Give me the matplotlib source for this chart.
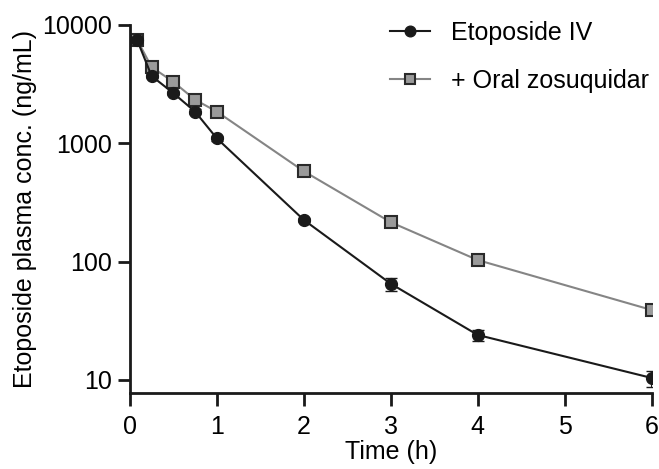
import numpy as np
import matplotlib.pyplot as plt

plt.rcParams['font.family'] = ['Liberation Sans', 'DejaVu Sans']

time_h = [0.083, 0.25, 0.5, 0.75, 1, 2, 3, 4, 6]
iv_conc = [7500, 3700, 2650, 1850, 1100, 225, 65, 24, 10.4]
iv_err = [300, 150, 100, 80, 50, 10, 8, 2.5, 1.6]
oral_conc = [7500, 4400, 3300, 2330, 1850, 580, 215, 103, 39]
oral_err = [250, 150, 120, 90, 60, 20, 10, 5, 3]

fig = plt.figure(figsize=(6.59, 4.69), dpi=100)
ax = fig.add_axes([0.197, 0.162, 0.792, 0.785])

oral = ax.errorbar(time_h, oral_conc, yerr=oral_err, color='#858585', lw=1.5,
                   marker='s', ms=8, mfc='#9a9a9a', mec='#2a2a2a', mew=1.5,
                   ecolor='#2a2a2a', elinewidth=1.5, capsize=4, zorder=2)
iv = ax.errorbar(time_h, iv_conc, yerr=iv_err, color='#1a1a1a', lw=1.5,
                 marker='o', ms=8.5, mfc='#1a1a1a', mec='#1a1a1a',
                 ecolor='#1a1a1a', elinewidth=1.5, capsize=4, zorder=3)

ax.set_yscale('log')
ax.set_ylim(7.76, 10000)
ax.set_xlim(0, 6)
ax.set_xticks(range(7))
ax.set_yticks([10, 100, 1000, 10000])
ax.set_yticklabels(['10', '100', '1000', '10000'])
ax.minorticks_off()

for side in ['top', 'right']:
    ax.spines[side].set_visible(False)
for side in ['left', 'bottom']:
    ax.spines[side].set_linewidth(2)
    ax.spines[side].set_color('#1a1a1a')
ax.tick_params(width=2, length=9, labelsize=18, color='#1a1a1a')
ax.tick_params(axis='x', pad=6.5)
ax.tick_params(axis='y', pad=3.5)

ax.set_xlabel('Time (h)', fontsize=18, labelpad=1)
ax.set_ylabel('Etoposide plasma conc. (ng/mL)', fontsize=18, labelpad=4)

fig.legend([iv.lines[0], oral.lines[0]], ['Etoposide IV', '+ Oral zosuquidar'],
           loc='upper left', bbox_to_anchor=(0.592, 0.956), frameon=False,
           fontsize=18, borderpad=0, borderaxespad=0, labelspacing=0.96,
           handlelength=1.6, handletextpad=0.85, markerscale=0.9)

fig.savefig('out.png', dpi=100)
